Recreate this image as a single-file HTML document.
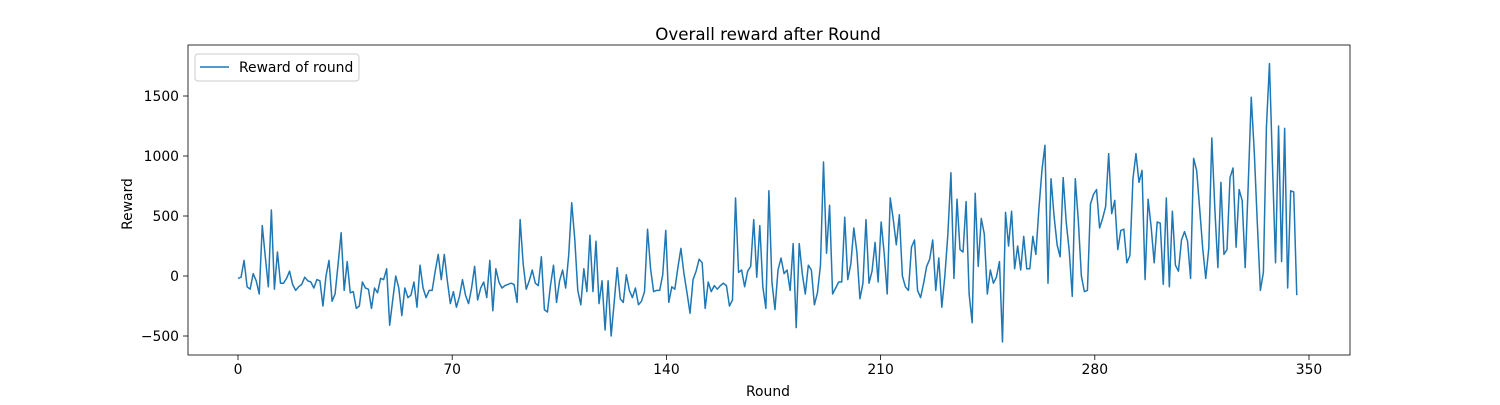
<!DOCTYPE html>
<html><head><meta charset="utf-8"><style>
body{margin:0;background:#fff;font-family:"Liberation Sans","DejaVu Sans",sans-serif}
</style></head><body>
<svg id="c" width="1500" height="400" xmlns="http://www.w3.org/2000/svg" font-family="DejaVu Sans, Liberation Sans, sans-serif"></svg>
<script>
const rewards=[-20,-10,130,-90,-110,20,-40,-150,420,160,
-90,550,-110,200,-60,-60,-20,40,-70,-120,
-90,-70,-10,-40,-50,-100,-30,-40,-250,0,
130,-210,-150,100,360,-120,120,-140,-130,-270,
-250,-50,-100,-110,-270,-100,-140,-20,-30,60,
-410,-200,0,-100,-330,-100,-180,-160,-50,-260,
90,-100,-180,-120,-120,40,180,-30,180,-40,
-230,-130,-260,-170,-30,-160,-230,-100,80,-200,
-100,-50,-180,130,-290,60,-50,-100,-80,-70,
-60,-70,-220,470,100,-110,-40,50,-60,-80,
160,-280,-300,-80,90,-220,-40,50,-100,170,
610,310,-120,-240,60,-130,340,-130,290,-230,
-40,-450,-40,-500,-220,70,-190,-220,10,-120,
-180,-100,-240,-210,-130,390,60,-130,-120,-120,
10,380,-220,-90,-110,70,230,20,-140,-310,
-30,40,140,110,-270,-50,-130,-80,-110,-80,
-60,-80,-250,-200,650,30,50,-90,40,80,
470,-10,420,-90,-270,710,-50,-280,50,150,
20,50,-120,270,-430,270,20,-150,90,50,
-240,-140,90,950,190,590,-150,-100,-50,-50,
490,-30,100,400,200,-190,-60,470,-60,40,
280,-50,450,190,-150,650,470,260,510,0,
-90,-120,240,300,-120,-180,-60,80,140,300,
-120,150,-260,0,350,860,-20,640,220,200,
620,-150,-390,690,80,480,350,-150,50,-60,
-10,120,-550,530,250,540,60,250,50,330,
60,60,330,180,560,880,1090,-60,810,500,
260,160,820,450,210,-170,810,460,0,-130,
-120,600,680,720,400,480,580,1020,520,630,
220,380,390,110,170,810,1020,780,880,-30,
640,410,110,450,440,-70,650,-90,540,90,
40,300,370,290,-20,980,880,560,230,-20,
230,1150,560,70,780,180,220,820,900,240,
720,630,70,760,1490,1030,440,-120,30,1240,
1770,920,110,1250,120,1230,-100,710,700,-160];
const xTicks=[0,70,140,210,280,350];
const yTicks=[-500,0,500,1000,1500];
const L=188,R=1350,T=45,B=355;
const xs=v=>238+(v)*(1309-238)/350;
const ys=v=>276-v*0.12;
const NS="http://www.w3.org/2000/svg",svg=document.getElementById('c');
function mk(t,a,txt){const e=document.createElementNS(NS,t);for(const k in a)e.setAttribute(k,a[k]);if(txt!==undefined)e.textContent=txt;svg.appendChild(e);return e;}
let d='';rewards.forEach((v,i)=>{const x=xs(i*346/(rewards.length-1));d+=(i?'L':'M')+x.toFixed(2)+','+ys(v).toFixed(2);});
const ln=mk('path',{d:d,fill:'none',stroke:'#1f77b4','stroke-width':1.5,'stroke-linejoin':'round'});


const fr=mk('rect',{x:L,y:T,width:R-L,height:B-T,fill:'none',stroke:'#000','stroke-width':0.8});


xTicks.forEach(t=>{const x=xs(t);mk('line',{x1:x,x2:x,y1:B,y2:B+5,stroke:'#000','stroke-width':0.8});
const tx=mk('text',{x:x,y:B+19,'text-anchor':'middle','font-size':13.9},String(t));

});
yTicks.forEach(t=>{const y=ys(t);mk('line',{x1:L-5,x2:L,y1:y,y2:y,stroke:'#000','stroke-width':0.8});
const tx=mk('text',{x:L-9,y:y+5,'text-anchor':'end','font-size':13.9},String(t).replace('-','\u2212'));

});
const ti=mk('text',{x:768,y:40,'text-anchor':'middle','font-size':16.7},'Overall reward after Round');


const xl=mk('text',{x:768,y:396,'text-anchor':'middle','font-size':13.9},'Round');


const yl=mk('text',{x:132,y:204,'text-anchor':'middle','font-size':13.9,transform:'rotate(-90 132 204)'},'Reward');


const lg=mk('rect',{x:195,y:54,width:164,height:27,rx:3,fill:'#fff',stroke:'#ccc','stroke-width':1});


mk('line',{x1:200,x2:229,y1:67,y2:67,stroke:'#1f77b4','stroke-width':1.5});
const lt=mk('text',{x:239,y:72,'font-size':13.9},'Reward of round');


</script>
</body></html>
